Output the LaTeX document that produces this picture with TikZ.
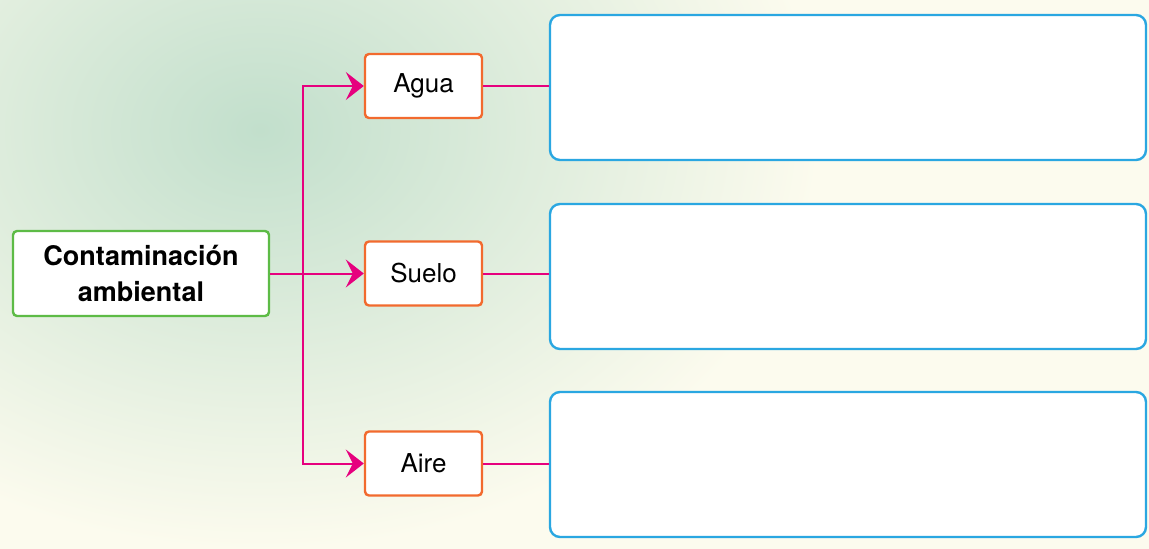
\documentclass[tikz,border=0pt]{standalone}
\usepackage{fontspec}
\setmainfont{TeX Gyre Heros}
\usetikzlibrary{arrows.meta}

\definecolor{topicgreen}{HTML}{5DBB46}
\definecolor{mediumorange}{HTML}{F26A2E}
\definecolor{answerblue}{HTML}{2AA7E1}
\definecolor{linkpink}{HTML}{E6007E}
\definecolor{bgcream}{HTML}{FCFBEE}
\definecolor{bggreen}{HTML}{C2DFCC}

\begin{document}
\begin{tikzpicture}[
			x=1pt, y=-1pt,
			base/.style={draw, fill=white, line width=2.4pt, rounded corners=4pt, inner sep=0pt},
			topic/.style={base, draw=topicgreen, minimum width=256pt, minimum height=85pt, align=center, font=\fontsize{27}{36}\selectfont\bfseries},
			medium/.style={base, draw=mediumorange, minimum width=117pt, minimum height=64pt, font=\fontsize{26}{30}\selectfont},
			answer/.style={base, draw=answerblue, rounded corners=10pt, minimum width=596pt, minimum height=145pt},
			link/.style={draw=linkpink, line width=2pt},
			arrow/.style={link, -{Stealth[length=18pt, width=28pt, inset=7pt]}},
			]

			\newcommand{\midx}{423.5}
			\newcommand{\ansx}{848}

			% background
			\useasboundingbox (0,0) rectangle (1149,549);
			\fill[bgcream] (0,0) rectangle (1149,549);
			\shade[inner color=bggreen, outer color=bgcream] (260,130) ellipse (560 and 420);

			\node [topic]  (topic) at (141,273.5)    {Contaminación\\ambiental};

			\node [medium] (agua)  at (\midx,86)     {Agua};
			\node [medium] (suelo) at (\midx,273.5)  {Suelo};
			\node [medium] (aire)  at (\midx,463.5)  {Aire};

			\node [answer] (ans1)  at (\ansx,87.5)   {};
			\node [answer] (ans2)  at (\ansx,276.5)  {};
			\node [answer] (ans3)  at (\ansx,464.5)  {};

			\coordinate (split) at (303,273.5);

			\draw [arrow] (topic) -- (suelo);
			\draw [arrow] (split) |- (agua.west);
			\draw [arrow] (split) |- (aire.west);

			\draw [link] (agua.east)  -- (agua.east -| ans1.west);
			\draw [link] (suelo.east) -- (suelo.east -| ans2.west);
			\draw [link] (aire.east)  -- (aire.east -| ans3.west);

		\end{tikzpicture}
\end{document}
